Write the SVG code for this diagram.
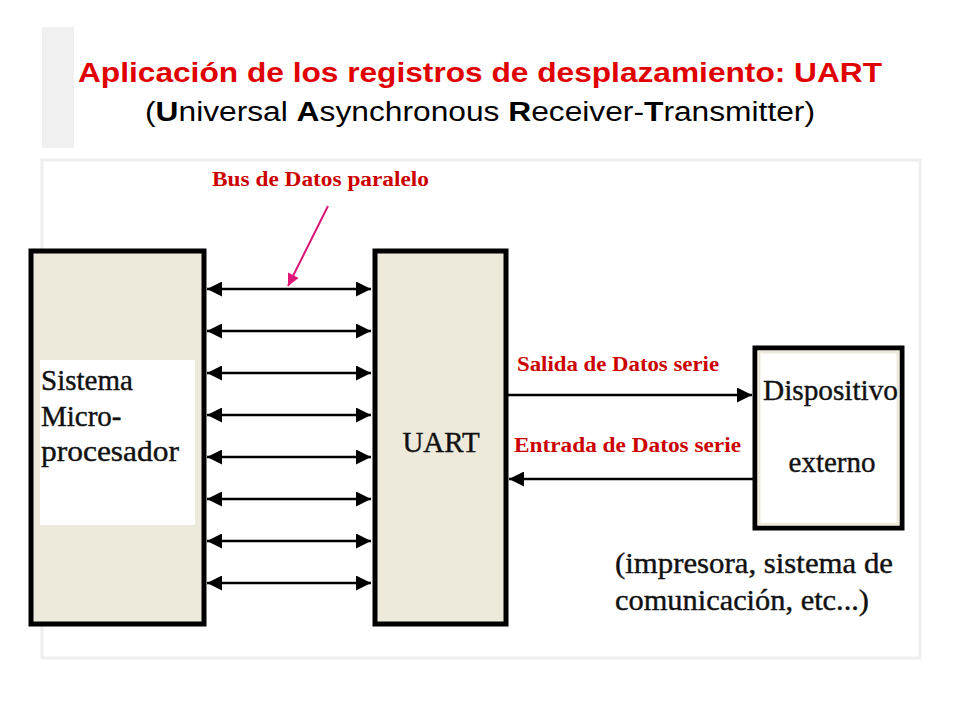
<svg xmlns="http://www.w3.org/2000/svg" width="960" height="720" viewBox="0 0 960 720">
<style>
.box{stroke:#000;stroke-width:5;fill:#eeeadb}
.bus{stroke:#000;stroke-width:2.5;marker-start:url(#ah);marker-end:url(#ah)}
.ser{stroke:#000;stroke-width:2.5;marker-end:url(#ah)}
.lbl{font-family:"Liberation Serif",serif;font-size:29px;fill:#111;stroke:#111;stroke-width:0.4}
.red{font-family:"Liberation Serif",serif;font-weight:bold;font-size:20px;fill:#cc0000}
</style>
<defs>
<marker id="ah" viewBox="0 0 10 10" refX="10" refY="5" markerWidth="7" markerHeight="6" orient="auto-start-reverse" markerUnits="strokeWidth"><path d="M0,0 L10,5 L0,10 z" fill="#000"/></marker>
<marker id="pk" viewBox="0 0 10 10" refX="10" refY="5" markerWidth="7" markerHeight="6" orient="auto" markerUnits="strokeWidth"><path d="M0,0 L10,5 L0,10 z" fill="#e0157a"/></marker>
</defs>
<rect width="960" height="720" fill="#fff"/>
<rect x="42" y="27" width="32" height="121" fill="#f0f0f0"/>
<rect x="42" y="160" width="878" height="498" fill="#fff" stroke="#eee" stroke-width="3"/>
<g id="title" font-family="Liberation Sans,Arial,sans-serif">
<text x="78" y="82" font-size="27" font-weight="bold" fill="#e00000" textLength="804" lengthAdjust="spacingAndGlyphs">Aplicación de los registros de desplazamiento: UART</text>
<text x="145" y="121" font-size="27" fill="#000" textLength="670" lengthAdjust="spacingAndGlyphs">(<tspan font-weight="bold">U</tspan>niversal <tspan font-weight="bold">A</tspan>synchronous <tspan font-weight="bold">R</tspan>eceiver-<tspan font-weight="bold">T</tspan>ransmitter)</text>
</g>
<g id="micro">
<rect class="box" x="31" y="251" width="173" height="373"/>
<rect x="40" y="360" width="155" height="165" fill="#fff"/>
<text class="lbl" x="41" y="390">Sistema</text>
<text class="lbl" x="41" y="426">Micro-</text>
<text class="lbl" x="41" y="461" textLength="138" lengthAdjust="spacingAndGlyphs">procesador</text>
</g>
<g id="uart">
<rect class="box" x="375" y="251" width="131" height="373"/>
<text class="lbl" x="441" y="452" text-anchor="middle" font-size="34" stroke-width="0">UART</text>
</g>
<g id="device">
<rect x="755" y="348" width="147" height="180" fill="#fff" stroke="#000" stroke-width="5"/>
<rect x="759" y="352" width="139" height="172" fill="none" stroke="#eeeadb" stroke-width="3"/>
<text class="lbl" x="763" y="400" textLength="135" lengthAdjust="spacingAndGlyphs">Dispositivo</text>
<text class="lbl" x="832" y="472" text-anchor="middle">externo</text>
</g>
<g id="connectors" fill="none">
<line class="bus" x1="207" y1="289" x2="371" y2="289"/>
<line class="bus" x1="207" y1="331" x2="371" y2="331"/>
<line class="bus" x1="207" y1="373" x2="371" y2="373"/>
<line class="bus" x1="207" y1="415" x2="371" y2="415"/>
<line class="bus" x1="207" y1="457" x2="371" y2="457"/>
<line class="bus" x1="207" y1="499" x2="371" y2="499"/>
<line class="bus" x1="207" y1="541" x2="371" y2="541"/>
<line class="bus" x1="207" y1="583" x2="371" y2="583"/>
<line class="ser" x1="508" y1="395" x2="752" y2="395"/>
<line class="ser" x1="753" y1="479" x2="509" y2="479"/>
<line x1="328" y1="206" x2="288" y2="286" stroke="#e0157a" stroke-width="2" marker-end="url(#pk)"/>
</g>
<g id="labels">
<text class="red" x="212" y="186" textLength="217" lengthAdjust="spacingAndGlyphs">Bus de Datos paralelo</text>
<text class="red" x="517" y="371" textLength="202" lengthAdjust="spacingAndGlyphs">Salida de Datos serie</text>
<text class="red" x="514" y="452" textLength="227" lengthAdjust="spacingAndGlyphs">Entrada de Datos serie</text>
<text class="lbl" x="615" y="573" textLength="278" lengthAdjust="spacingAndGlyphs">(impresora, sistema de</text>
<text class="lbl" x="615" y="610" textLength="254" lengthAdjust="spacingAndGlyphs">comunicación, etc...)</text>
</g>
</svg>
